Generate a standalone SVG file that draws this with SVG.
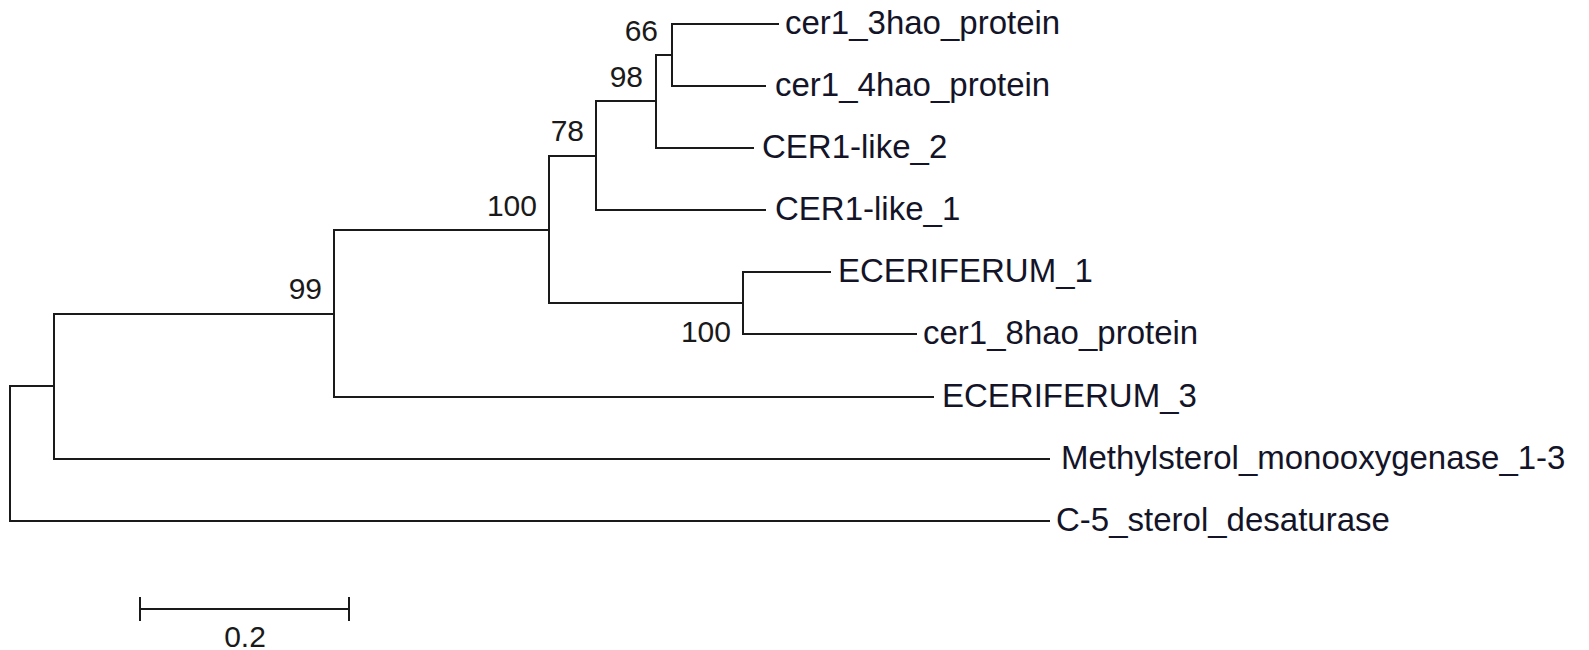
<svg xmlns="http://www.w3.org/2000/svg" width="1589" height="650" viewBox="0 0 1589 650">
  <style>
    .br { fill: none; stroke: #1a1a1a; stroke-width: 2; stroke-linecap: square; }
    .leaf { font-family: "Liberation Sans", Arial, sans-serif; font-size: 33px; fill: #141428; }
    .bs { font-family: "Liberation Sans", Arial, sans-serif; font-size: 30px; fill: #1a1a1a; text-anchor: end; }
    .sc { font-family: "Liberation Sans", Arial, sans-serif; font-size: 30px; fill: #1a1a1a; text-anchor: middle; }
  </style>
  <rect width="1589" height="650" fill="#ffffff"/>
  <g id="connectors">
    <!-- root -->
    <path class="br" d="M54 386 H10 V521 H1049"/>
    <!-- node M -->
    <path class="br" d="M334 314 H54 V459 H1049"/>
    <!-- node 99 -->
    <path class="br" d="M549 230 H334 V397 H933"/>
    <!-- node 100 upper -->
    <path class="br" d="M596 156 H549 V303 H743"/>
    <!-- node 78 -->
    <path class="br" d="M656 101 H596 V210 H765"/>
    <!-- node 98 -->
    <path class="br" d="M672 55 H656 V148 H753"/>
    <!-- node 66 -->
    <path class="br" d="M778 24 H672 V86 H765"/>
    <!-- node 100 lower -->
    <path class="br" d="M830 272 H743 V334 H916"/>
  </g>
  <g id="leaf-cer1_3hao_protein"><text class="leaf" x="785" y="34">cer1_3hao_protein</text></g>
  <g id="leaf-cer1_4hao_protein"><text class="leaf" x="775" y="96">cer1_4hao_protein</text></g>
  <g id="leaf-CER1-like_2"><text class="leaf" x="762" y="158">CER1-like_2</text></g>
  <g id="leaf-CER1-like_1"><text class="leaf" x="775" y="220">CER1-like_1</text></g>
  <g id="leaf-ECERIFERUM_1"><text class="leaf" x="838" y="282">ECERIFERUM_1</text></g>
  <g id="leaf-cer1_8hao_protein"><text class="leaf" x="923" y="344">cer1_8hao_protein</text></g>
  <g id="leaf-ECERIFERUM_3"><text class="leaf" x="942" y="407">ECERIFERUM_3</text></g>
  <g id="leaf-Methylsterol_monooxygenase_1-3"><text class="leaf" x="1061" y="469">Methylsterol_monooxygenase_1-3</text></g>
  <g id="leaf-C-5_sterol_desaturase"><text class="leaf" x="1056" y="531">C-5_sterol_desaturase</text></g>
  <g id="bootstrap-66"><text class="bs" x="658" y="40.5">66</text></g>
  <g id="bootstrap-98"><text class="bs" x="643" y="86.5">98</text></g>
  <g id="bootstrap-78"><text class="bs" x="584" y="140.5">78</text></g>
  <g id="bootstrap-100-upper"><text class="bs" x="537" y="216">100</text></g>
  <g id="bootstrap-99"><text class="bs" x="322" y="299">99</text></g>
  <g id="bootstrap-100-lower"><text class="bs" x="731" y="341.5">100</text></g>
  <g id="scale-bar">
    <path class="br" d="M140 609 H349 M140 598 V620 M349 598 V620"/>
    <text class="sc" x="245" y="647">0.2</text>
  </g>
</svg>
